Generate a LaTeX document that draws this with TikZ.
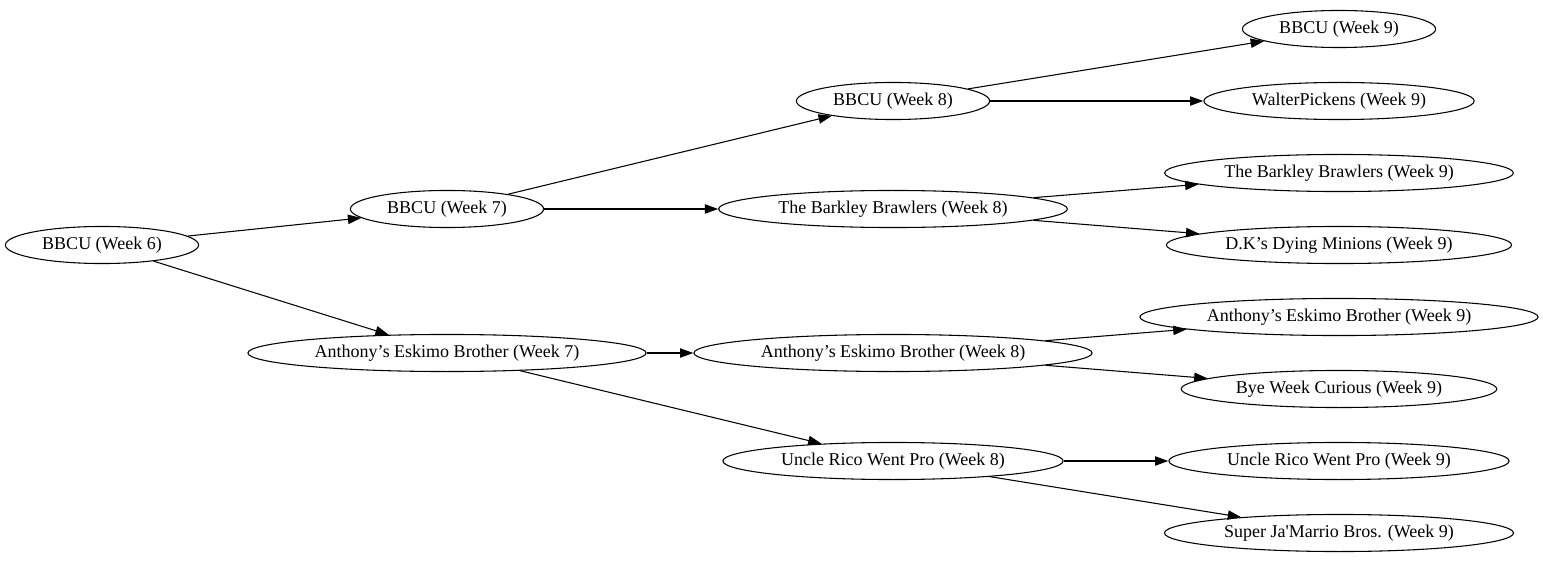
\documentclass[tikz,border=0pt]{standalone}
\usepackage{fontspec}
\setmainfont{Liberation Serif}
\newfontfamily\teamfont{Liberation Serif}
\usetikzlibrary{shapes.geometric,arrows.meta}
\tikzset{
  team/.style={draw, ellipse, line width=0.8pt, inner xsep=6.4pt, inner ysep=0pt,
    minimum height=27.8pt, font=\teamfont\fontsize{13.5}{16}\selectfont},
  pick/.style={-{Triangle[length=10pt,width=7pt]}, line width=0.8pt}
}
\begin{document}
\begin{tikzpicture}[x=0.75pt, y=-0.75pt]
  \useasboundingbox (0,0) rectangle (1543,563);
  % Week 6
  \node[team] (w6bbcu) at (102,245) {BBCU (Week 6)};
  % Week 7
  \node[team] (w7bbcu) at (447,209) {BBCU (Week 7)};
  \node[team] (w7aeb) at (447,353) {Anthony’s Eskimo Brother (Week 7)};
  % Week 8
  \node[team] (w8bbcu) at (893,101) {BBCU (Week 8)};
  \node[team] (w8tbb) at (893,209) {The Barkley Brawlers (Week 8)};
  \node[team] (w8aeb) at (893,353) {Anthony’s Eskimo Brother (Week 8)};
  \node[team] (w8urwp) at (893,461) {Uncle Rico Went Pro (Week 8)};
  % Week 9
  \node[team] (w9bbcu) at (1339,29) {BBCU (Week 9)};
  \node[team] (w9wp) at (1339,101) {WalterPickens (Week 9)};
  \node[team] (w9tbb) at (1339,173) {The Barkley Brawlers (Week 9)};
  \node[team] (w9dk) at (1339,245) {D.K’s Dying Minions (Week 9)};
  \node[team] (w9aeb) at (1339,317) {Anthony’s Eskimo Brother (Week 9)};
  \node[team] (w9bwc) at (1339,389) {Bye Week Curious (Week 9)};
  \node[team] (w9urwp) at (1339,461) {Uncle Rico Went Pro (Week 9)};
  \node[team] (w9sjb) at (1339,533) {Super Ja'Marrio Bros. (Week 9)};

  % Matchups
  \draw[pick] (w6bbcu) -- (w7bbcu);
  \draw[pick] (w6bbcu) -- (w7aeb);
  \draw[pick] (w7bbcu) -- (w8bbcu);
  \draw[pick] (w7bbcu) -- (w8tbb);
  \draw[pick] (w7aeb) -- (w8aeb);
  \draw[pick] (w7aeb) -- (w8urwp);
  \draw[pick] (w8bbcu) -- (w9bbcu);
  \draw[pick] (w8bbcu) -- (w9wp);
  \draw[pick] (w8tbb) -- (w9tbb);
  \draw[pick] (w8tbb) -- (w9dk);
  \draw[pick] (w8aeb) -- (w9aeb);
  \draw[pick] (w8aeb) -- (w9bwc);
  \draw[pick] (w8urwp) -- (w9urwp);
  \draw[pick] (w8urwp) -- (w9sjb);
\end{tikzpicture}
\end{document}
